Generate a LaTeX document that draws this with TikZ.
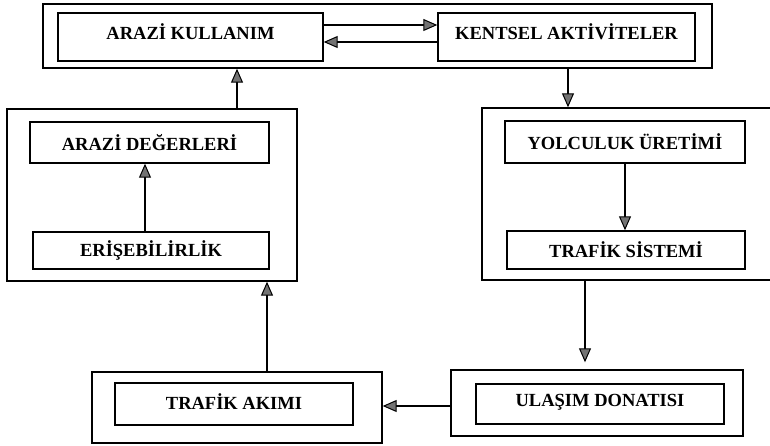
\documentclass[tikz,border=0pt]{standalone}
\usepackage{fontspec}
\setmainfont{Liberation Serif}
\usetikzlibrary{arrows.meta}
\tikzset{
  txt/.style={font=\fontsize{18.5}{21}\selectfont\bfseries},
  outerbox/.style={draw=black, line width=1.4pt, rectangle, inner sep=0pt},
  innerbox/.style={draw=black, line width=1.4pt, rectangle, inner sep=0pt, txt},
  arr/.style={draw=black, line width=1.4pt, -{Triangle[length=14pt, width=12pt, fill=black!55, line width=1pt]}}
}
\begin{document}
\begin{tikzpicture}[x=1pt,y=-1pt]
\useasboundingbox (0,0) rectangle (770,446);
% outer boxes
\node[outerbox, minimum width=669pt, minimum height=64pt] (top) at (377.5,36) {};
\node[outerbox, minimum width=290pt, minimum height=172pt] (lo) at (152,195) {};
\node[outerbox, minimum width=293pt, minimum height=172pt] (ro) at (628.5,194) {};
\node[outerbox, minimum width=290pt, minimum height=71pt] (tao) at (237,407.5) {};
\node[outerbox, minimum width=292pt, minimum height=66pt] (udo) at (597,403) {};
% inner boxes
\node[innerbox, minimum width=265pt, minimum height=48pt] (ak) at (190.5,37) {};
\node[txt] (akt) at ([yshift=5pt]ak.center) {ARAZİ KULLANIM};
\node[innerbox, minimum width=257pt, minimum height=48pt] (ka) at (566.5,37) {};
\node[txt] (kat) at ([yshift=5pt]ka.center) {KENTSEL AKTİVİTELER};
\node[innerbox, minimum width=239pt, minimum height=41pt] (ad) at (149.5,142.5) {ARAZİ DEĞERLERİ};
\node[innerbox, minimum width=236pt, minimum height=37pt] (er) at (151,250.5) {ERİŞEBİLİRLİK};
\node[innerbox, minimum width=240pt, minimum height=42pt] (yu) at (625,142) {YOLCULUK ÜRETİMİ};
\node[innerbox, minimum width=238pt, minimum height=38pt] (ts) at (626,250) {TRAFİK SİSTEMİ};
\node[innerbox, minimum width=238pt, minimum height=42pt] (ta) at (234,404) {};
\node[txt] (tat) at ([yshift=2pt]ta.center) {TRAFİK AKIMI};
\node[innerbox, minimum width=248pt, minimum height=40pt] (ud) at (600,404) {};
\node[txt] (udt) at ([yshift=2pt]ud.center) {ULAŞIM DONATISI};
% guide coordinates
\coordinate (xa) at (145,0);
\coordinate (xb) at (267,0);
\coordinate (xc) at (237,0);
\coordinate (xd) at (568,0);
\coordinate (xe) at (625,0);
\coordinate (xf) at (585,0);
\coordinate (ya) at (0,25);
\coordinate (yb) at (0,42);
\coordinate (yc) at (0,406);
% connectors
\draw[arr] (ak.east |- ya) -- (ka.west |- ya);
\draw[arr] (ka.west |- yb) -- (ak.east |- yb);
\draw[arr] (lo.north -| xc) -- (top.south -| xc);
\draw[arr] (er.north -| xa) -- (ad.south -| xa);
\draw[arr] (tao.north -| xb) -- (lo.south -| xb);
\draw[arr] (top.south -| xd) -- (ro.north -| xd);
\draw[arr] (yu.south -| xe) -- (ts.north -| xe);
\draw[arr, shorten >=7pt] (ro.south -| xf) -- (udo.north -| xf);
\draw[arr] (udo.west |- yc) -- (tao.east |- yc);
\end{tikzpicture}
\end{document}
